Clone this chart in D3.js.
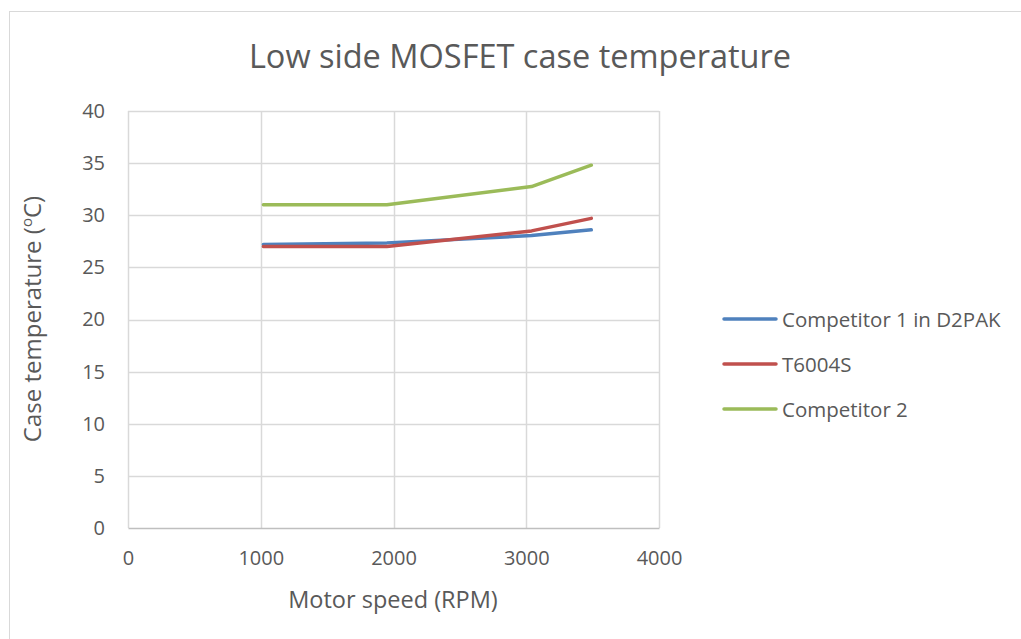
<!DOCTYPE html>
<html>
<head>
<meta charset="utf-8">
<script src="https://cdn.jsdelivr.net/npm/d3@7"></script>
<style>
  body { margin: 0; background: #fff; }
  text { font-family: "Open Sans", "Liberation Sans", sans-serif; fill: #595959; }
</style>
</head>
<body>
<svg id="chart" width="1021" height="639"></svg>
<script>
var speeds = [1020, 1950, 3040, 3490];
var competitor1 = [27.2, 27.35, 28.05, 28.6];
var t6004s = [27.0, 27.0, 28.5, 29.7];
var competitor2 = [31.0, 31.0, 32.75, 34.8];
var seriesNames = ["Competitor 1 in D2PAK", "T6004S", "Competitor 2"];
var colors = ["#4F81BD", "#C0504D", "#9BBB59"];
var xTicks = [0, 1000, 2000, 3000, 4000];
var yTicks = [0, 5, 10, 15, 20, 25, 30, 35, 40];

var svg = d3.select("#chart"),
    margin = {top: 111, right: 362, bottom: 111, left: 128},
    width = +svg.attr("width") - margin.left - margin.right,
    height = +svg.attr("height") - margin.top - margin.bottom;

// chart border
svg.append("rect")
    .attr("x", 9.5).attr("y", 11.5)
    .attr("width", 1030).attr("height", 640)
    .attr("fill", "none").attr("stroke", "#d9d9d9");

var g = svg.append("g").attr("transform", "translate(" + margin.left + "," + margin.top + ")");

var x = d3.scaleLinear().domain([0, 4000]).range([0, width]);
var y = d3.scaleLinear().domain([0, 40]).range([height, 0]);

// gridlines
g.selectAll(".hgrid").data(yTicks.slice(1)).enter().append("line")
    .attr("x1", 0).attr("x2", width)
    .attr("y1", function(d) { return Math.round(y(d)) + 0.5; })
    .attr("y2", function(d) { return Math.round(y(d)) + 0.5; })
    .attr("stroke", "#d9d9d9").attr("stroke-width", 1.5);
g.selectAll(".vgrid").data(xTicks).enter().append("line")
    .attr("x1", function(d) { return Math.round(x(d)) + 0.5; })
    .attr("x2", function(d) { return Math.round(x(d)) + 0.5; })
    .attr("y1", 0).attr("y2", height)
    .attr("stroke", "#d9d9d9").attr("stroke-width", 1.5);

// axes
var xAxis = g.append("g")
    .attr("transform", "translate(0," + height + ")")
    .call(d3.axisBottom(x).tickValues(xTicks).tickFormat(d3.format("d")).tickSize(0).tickPadding(23));
xAxis.select(".domain").attr("stroke", "#bfbfbf").attr("stroke-width", 1.5);
xAxis.selectAll("text").style("font-size", "20px").attr("fill", "#595959");

var yAxis = g.append("g")
    .call(d3.axisLeft(y).tickValues(yTicks).tickSize(0).tickPadding(23));
yAxis.select(".domain").remove();
yAxis.selectAll("text").style("font-size", "20px").attr("fill", "#595959");

// lines
var allSeries = [competitor1, t6004s, competitor2];
var line = d3.line()
    .x(function(d, i) { return x(speeds[i]); })
    .y(function(d) { return y(d); });

allSeries.forEach(function(s, i) {
  g.append("path")
      .datum(s)
      .attr("fill", "none")
      .attr("stroke", colors[i])
      .attr("stroke-width", 3.5)
      .attr("stroke-linejoin", "round")
      .attr("stroke-linecap", "round")
      .attr("d", line);
});

// title
svg.append("text")
    .attr("x", 520).attr("y", 68)
    .attr("text-anchor", "middle")
    .style("font-size", "32.5px")
    .text("Low side MOSFET case temperature");

// axis titles
svg.append("text")
    .attr("x", 393).attr("y", 608)
    .attr("text-anchor", "middle")
    .style("font-size", "23.5px")
    .text("Motor speed (RPM)");

var yt = svg.append("text")
    .attr("transform", "translate(41,319) rotate(-90)")
    .attr("text-anchor", "middle")
    .style("font-size", "24px");
yt.append("tspan").text("Case temperature (");
yt.append("tspan").attr("dy", -9).style("font-size", "15px").text("o");
yt.append("tspan").attr("dy", 9).text("C)");

// legend
for (var i = 0; i < 3; i++) {
  svg.append("line")
      .attr("x1", 724).attr("x2", 776)
      .attr("y1", 319 + 45 * i).attr("y2", 319 + 45 * i)
      .attr("stroke", colors[i])
      .attr("stroke-width", 3.5)
      .attr("stroke-linecap", "round");
  svg.append("text")
      .attr("x", 782).attr("y", 327 + 45 * i)
      .style("font-size", "20.5px")
      .text(seriesNames[i]);
}
</script>
</body>
</html>
